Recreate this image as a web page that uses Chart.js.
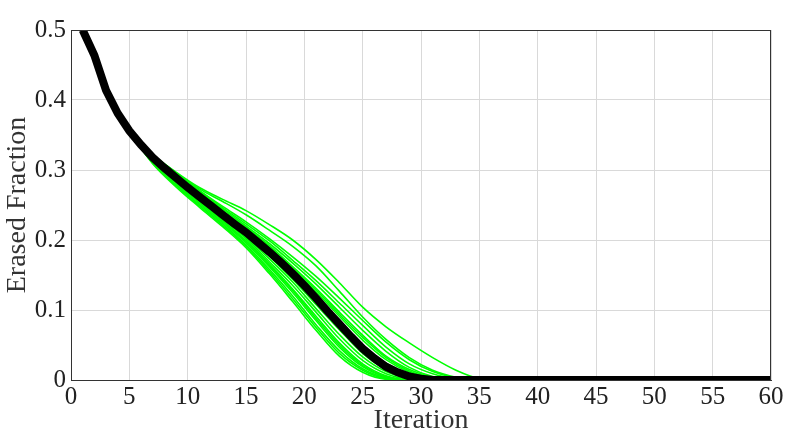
<!DOCTYPE html>
<html>
<head>
<meta charset="utf-8">
<title>Erased fraction per iteration</title>
<script src="https://cdn.jsdelivr.net/npm/chart.js@4.4.1/dist/chart.umd.min.js"></script>
<style>
  html, body { margin: 0; padding: 0; background: #fff; }
  #wrap { width: 790px; height: 435px; }
</style>
</head>
<body>
<div id="wrap"><canvas id="chart" width="790" height="435"></canvas></div>
<script>
// tick labels
const xTickLabels = ['0', '5', '10', '15', '20', '25', '30', '35', '40', '45', '50', '55', '60'];
const yTickLabels = ['0', '0.1', '0.2', '0.3', '0.4', '0.5'];

// mean curve (black), one value per iteration, then flat at 0 up to 60
const meanIter = [1, 2, 3, 4, 5, 6, 7, 8, 9, 10, 11, 12, 13, 14, 15, 16, 17, 18, 19, 20,
  21, 22, 23, 24, 25, 26, 27, 28, 29, 30, 31, 60];
const meanValues = [0.500, 0.464, 0.414, 0.381, 0.356, 0.336, 0.318, 0.303, 0.289, 0.275,
  0.262, 0.249, 0.236, 0.223, 0.211, 0.197, 0.183, 0.168, 0.152, 0.135,
  0.117, 0.098, 0.080, 0.062, 0.045, 0.031, 0.019, 0.011, 0.005, 0.002, 0.000, 0.000];

// individual runs (green), sampled on this iteration grid
const runIter = [1, 2, 3, 4, 5, 7, 9, 11, 13, 15, 17, 19, 21, 23, 25, 27, 29, 31, 33, 35, 37, 60];
const runStart = [0.500, 0.464, 0.414, 0.381, 0.355];
const run01 = [0.309, 0.276, 0.247, 0.219, 0.189, 0.152, 0.112, 0.071, 0.034, 0.011, 0.001, 0, 0, 0, 0, 0, 0];
const run02 = [0.310, 0.278, 0.249, 0.221, 0.191, 0.155, 0.116, 0.075, 0.038, 0.014, 0.002, 0, 0, 0, 0, 0, 0];
const run03 = [0.311, 0.279, 0.251, 0.223, 0.193, 0.158, 0.120, 0.079, 0.042, 0.016, 0.003, 0, 0, 0, 0, 0, 0];
const run04 = [0.313, 0.281, 0.253, 0.225, 0.196, 0.162, 0.125, 0.085, 0.047, 0.019, 0.004, 0, 0, 0, 0, 0, 0];
const run05 = [0.315, 0.283, 0.255, 0.227, 0.198, 0.164, 0.128, 0.088, 0.050, 0.021, 0.005, 0, 0, 0, 0, 0, 0];
const run06 = [0.316, 0.285, 0.256, 0.228, 0.199, 0.166, 0.130, 0.091, 0.053, 0.023, 0.006, 0, 0, 0, 0, 0, 0];
const run07 = [0.316, 0.286, 0.257, 0.230, 0.202, 0.169, 0.135, 0.097, 0.059, 0.028, 0.009, 0.001, 0, 0, 0, 0, 0];
const run08 = [0.317, 0.287, 0.259, 0.232, 0.204, 0.173, 0.140, 0.102, 0.065, 0.033, 0.012, 0.002, 0, 0, 0, 0, 0];
const run09 = [0.317, 0.288, 0.260, 0.234, 0.207, 0.177, 0.144, 0.108, 0.072, 0.038, 0.015, 0.004, 0, 0, 0, 0, 0];
const run10 = [0.318, 0.289, 0.261, 0.235, 0.209, 0.179, 0.147, 0.111, 0.075, 0.041, 0.017, 0.005, 0, 0, 0, 0, 0];
const run11 = [0.318, 0.289, 0.262, 0.236, 0.210, 0.181, 0.149, 0.114, 0.078, 0.044, 0.019, 0.005, 0, 0, 0, 0, 0];
const run12 = [0.319, 0.290, 0.264, 0.238, 0.213, 0.185, 0.153, 0.120, 0.084, 0.050, 0.024, 0.008, 0.001, 0, 0, 0, 0];
const run13 = [0.319, 0.291, 0.265, 0.240, 0.215, 0.188, 0.158, 0.126, 0.091, 0.057, 0.029, 0.011, 0.002, 0, 0, 0, 0];
const run14 = [0.320, 0.292, 0.266, 0.241, 0.217, 0.190, 0.160, 0.129, 0.094, 0.061, 0.032, 0.013, 0.003, 0, 0, 0, 0];
const run15 = [0.320, 0.292, 0.267, 0.242, 0.218, 0.192, 0.162, 0.131, 0.097, 0.064, 0.034, 0.015, 0.004, 0, 0, 0, 0];
const run16 = [0.321, 0.293, 0.268, 0.244, 0.220, 0.195, 0.167, 0.137, 0.104, 0.071, 0.041, 0.018, 0.005, 0.001, 0, 0, 0];
const run17 = [0.322, 0.295, 0.270, 0.246, 0.223, 0.199, 0.171, 0.142, 0.110, 0.078, 0.047, 0.023, 0.009, 0.002, 0, 0, 0];
const run18 = [0.322, 0.296, 0.271, 0.248, 0.226, 0.202, 0.176, 0.148, 0.117, 0.085, 0.054, 0.029, 0.012, 0.003, 0, 0, 0];
const run19 = [0.321, 0.296, 0.273, 0.255, 0.236, 0.214, 0.191, 0.163, 0.127, 0.090, 0.058, 0.032, 0.014, 0.004, 0, 0, 0];
const run20 = [0.322, 0.297, 0.275, 0.258, 0.242, 0.222, 0.200, 0.172, 0.139, 0.104, 0.076, 0.053, 0.032, 0.014, 0.002, 0, 0];

const runs = [run01, run02, run03, run04, run05, run06, run07, run08, run09, run10,
  run11, run12, run13, run14, run15, run16, run17, run18, run19, run20];

function toPoints(xs, ys) {
  return xs.map((x, i) => ({ x: x, y: ys[i] }));
}

const datasets = [{
  label: 'Mean',
  data: toPoints(meanIter, meanValues),
  borderColor: '#000000',
  borderWidth: 8,
  tension: 0,
  clip: 0
}];
runs.forEach((r, k) => {
  datasets.push({
    label: 'Run ' + (k + 1),
    data: toPoints(runIter, runStart.concat(r)),
    borderColor: '#00ff00',
    borderWidth: 1.6,
    cubicInterpolationMode: 'monotone',
    clip: 0
  });
});

// box round the plot area
const frame = {
  id: 'frame',
  afterDraw(chart) {
    const a = chart.chartArea;
    const ctx = chart.ctx;
    ctx.save();
    ctx.strokeStyle = '#333333';
    ctx.lineWidth = 1;
    ctx.strokeRect(a.left + 0.5, a.top + 0.5, a.right - a.left - 1, a.bottom - a.top);
    ctx.restore();
  }
};

const tickFont = { family: '"Liberation Serif", "DejaVu Serif", serif', size: 25 };
const titleFont = { family: '"Liberation Serif", "DejaVu Serif", serif', size: 28 };

new Chart(document.getElementById('chart'), {
  type: 'line',
  data: { datasets: datasets },
  plugins: [frame],
  options: {
    responsive: false,
    animation: false,
    events: [],
    elements: { point: { radius: 0 } },
    layout: { padding: { top: 30, right: 19, left: 0, bottom: 0 } },
    plugins: { legend: { display: false }, tooltip: { enabled: false } },
    scales: {
      x: {
        type: 'linear',
        min: 0,
        max: 60,
        afterFit: s => { s.height = 55; },
        ticks: {
          stepSize: 5,
          autoSkip: false,
          maxRotation: 0,
          padding: 2,
          color: '#222222',
          font: tickFont,
          callback: (v, i) => xTickLabels[i]
        },
        grid: { color: '#d9d9d9', drawTicks: false },
        border: { color: '#333333' },
        title: { display: true, text: 'Iteration', color: '#333333', font: titleFont, padding: { top: 0, bottom: -2 } }
      },
      y: {
        min: 0,
        max: 0.5,
        afterFit: s => { s.width = 71; },
        ticks: {
          stepSize: 0.1,
          padding: 5,
          color: '#222222',
          font: tickFont,
          callback: (v, i) => yTickLabels[i]
        },
        grid: { color: '#d9d9d9', drawTicks: false },
        border: { color: '#333333' },
        title: { display: true, text: 'Erased Fraction', color: '#333333', font: titleFont, padding: { top: 1, bottom: 0 } }
      }
    }
  }
});
</script>
</body>
</html>
